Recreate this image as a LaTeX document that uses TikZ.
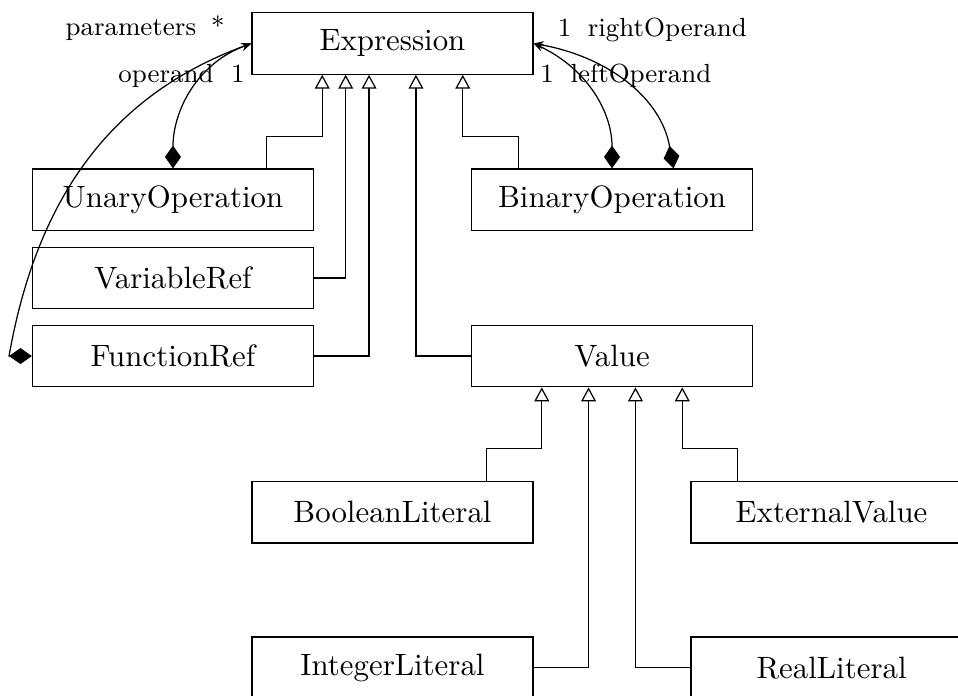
\documentclass[tikz,border=0pt]{standalone}
\usepackage{tikz}
\usetikzlibrary{arrows.meta}

\begin{document}
\begin{tikzpicture}[umlclass/.style={draw, minimum width=3.2cm, minimum height=0.7cm},
  role/.style={font=\fontsize{8.5}{10}\selectfont, anchor=base, inner sep=0pt},
  inherit/.style={-{Triangle[open, length=4.5pt, width=4.8pt, fill=white]}},
  compose/.style={{Diamond[length=7.4pt, width=5.2pt]}-{Stealth[length=3.2pt, width=2.6pt]}}]
  \useasboundingbox (-4.47,-7.42) rectangle (6.44,0.495);
  \clip (-4.47,-7.42) rectangle (6.44,0.495);
  % classes
  \node[umlclass] (expression) at (0,0) {Expression};
  \node[umlclass] (unary) at (-2.5,-1.78) {UnaryOperation};
  \node[umlclass] (binary) at (2.5,-1.78) {BinaryOperation};
  \node[umlclass] (variable) at (-2.5,-2.67) {VariableRef};
  \node[umlclass] (function) at (-2.5,-3.56) {FunctionRef};
  \node[umlclass] (value) at (2.5,-3.56) {Value};
  \node[umlclass] (boolean) at (0,-5.34) {BooleanLiteral};
  \node[umlclass] (external) at (5,-5.34) {ExternalValue};
  \node[umlclass] (integer) at (0,-7.11) {IntegerLiteral};
  \node[umlclass] (real) at (5,-7.11) {RealLiteral};
  % inheritance
  \draw[inherit] ([xshift=1.067cm]unary.north) |- ([xshift=-0.8cm,yshift=-0.7cm]expression.south) -- ([xshift=-0.8cm]expression.south);
  \draw[inherit] (variable.east) -| ([xshift=-0.533cm]expression.south);
  \draw[inherit] (function.east) -| ([xshift=-0.267cm]expression.south);
  \draw[inherit] (value.west) -| ([xshift=0.267cm]expression.south);
  \draw[inherit] ([xshift=-1.067cm]binary.north) |- ([xshift=0.8cm,yshift=-0.7cm]expression.south) -- ([xshift=0.8cm]expression.south);
  \draw[inherit] ([xshift=1.067cm]boolean.north) |- ([xshift=-0.8cm,yshift=-0.7cm]value.south) -- ([xshift=-0.8cm]value.south);
  \draw[inherit] (integer.east) -| ([xshift=-0.267cm]value.south);
  \draw[inherit] (real.west) -| ([xshift=0.267cm]value.south);
  \draw[inherit] ([xshift=-1.067cm]external.north) |- ([xshift=0.8cm,yshift=-0.7cm]value.south) -- ([xshift=0.8cm]value.south);
  % compositions
  \draw[compose] (unary.north) to[out=90, in=200] (expression.west);
  \draw[compose] (function.west) -- ++(-7.4pt,0) to[out=80, in=200] (expression.west);
  \draw[compose] (binary.north) to[out=90, in=-25] (expression.east);
  \draw[compose] ([xshift=0.7cm]binary.north) to[out=100, in=-10] (expression.east);
  % roles and multiplicities
  \node[role] (paramsrole) at (-2.98,0.085) {parameters};
  \node[role] (paramsmult) at (-1.99,0.085) {*};
  \node[role] (operandrole) at (-2.58,-0.44) {operand};
  \node[role] (operandmult) at (-1.76,-0.44) {1};
  \node[role] (rightmult) at (1.96,0.074) {1};
  \node[role] (rightrole) at (3.13,0.074) {rightOperand};
  \node[role] (leftmult) at (1.76,-0.45) {1};
  \node[role] (leftrole) at (2.83,-0.45) {leftOperand};
\end{tikzpicture}
\end{document}
